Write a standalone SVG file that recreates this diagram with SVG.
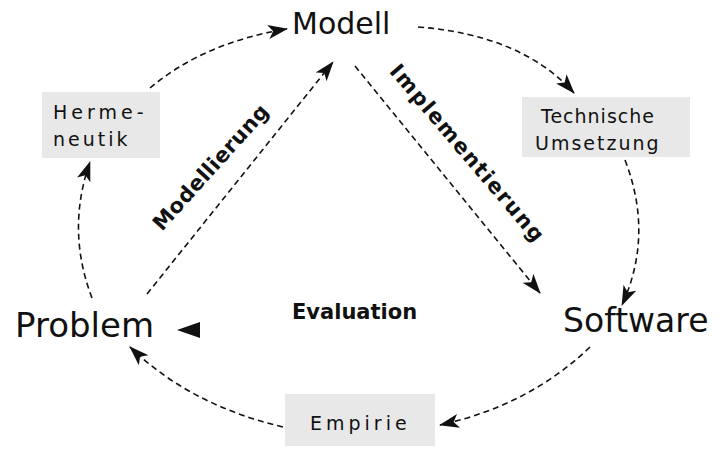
<svg xmlns="http://www.w3.org/2000/svg" width="720" height="451" viewBox="0 0 720 451">
<style>
.big{font-family:"DejaVu Sans",sans-serif;fill:#111}
.box{fill:#e8e8e8}
.lbl{font-family:"DejaVu Sans",sans-serif;font-size:19px;fill:#111}
.bold{font-family:"DejaVu Sans",sans-serif;font-weight:bold;font-size:21px;fill:#111}
.con{fill:none;stroke:#111;stroke-width:1.6;stroke-dasharray:6,4}
</style>
<defs>
<marker id="ah" viewBox="0 0 20 14" refX="19" refY="7" markerWidth="20" markerHeight="14" markerUnits="userSpaceOnUse" orient="auto">
<path d="M0,0 L20,7 L0,14 L5,7 z" fill="#111"/>
</marker>
</defs>
<rect width="720" height="451" fill="#fff"/>
<g id="connectors">
<path class="con" d="M150,88 Q205,42 287,29" marker-end="url(#ah)"/>
<path class="con" d="M92,298 Q66,230 90,162" marker-end="url(#ah)"/>
<path class="con" d="M418,27 Q522,35 574,93" marker-end="url(#ah)"/>
<path class="con" d="M625,160 Q654,235 622,305" marker-end="url(#ah)"/>
<path class="con" d="M590,347 Q530,405 440,425" marker-end="url(#ah)"/>
<path class="con" d="M283,427 Q190,405 130,347" marker-end="url(#ah)"/>
<path class="con" d="M147,294 L333,62" marker-end="url(#ah)" stroke-dasharray="5,3"/>
<path class="con" d="M355,66 L540,293" marker-end="url(#ah)" stroke-dasharray="7,3,2,3"/>
<path d="M177,330 L200,322 L200,338 z" fill="#111"/>
</g>
<g id="modell"><text class="big" x="292" y="34" font-size="30">Modell</text></g>
<g id="hermeneutik">
<rect class="box" x="42" y="92" width="118" height="66"/>
<text class="lbl" x="53" y="119" style="letter-spacing:4px">Herme-</text>
<text class="lbl" x="53" y="146" style="letter-spacing:3px">neutik</text>
</g>
<g id="technische">
<rect class="box" x="522" y="97" width="168" height="60"/>
<text class="lbl" x="541" y="123" style="letter-spacing:1px">Technische</text>
<text class="lbl" x="535" y="150" style="letter-spacing:2px">Umsetzung</text>
</g>
<g id="software"><text class="big" x="563" y="332" font-size="33">Software</text></g>
<g id="empirie">
<rect class="box" x="285" y="394" width="150" height="52"/>
<text class="lbl" x="310" y="430" style="letter-spacing:4px">Empirie</text>
</g>
<g id="problem"><text class="big" x="15" y="337" font-size="34">Problem</text></g>
<g id="evaluation"><text class="bold" x="292" y="319" font-size="21">Evaluation</text></g>
<g id="modellierung"><text class="bold" transform="translate(216,172) rotate(-48)" text-anchor="middle" letter-spacing="0.5">Modellierung</text></g>
<g id="implementierung"><text class="bold" transform="translate(462,158) rotate(49.6)" text-anchor="middle" letter-spacing="1.5">Implementierung</text></g>
</svg>
